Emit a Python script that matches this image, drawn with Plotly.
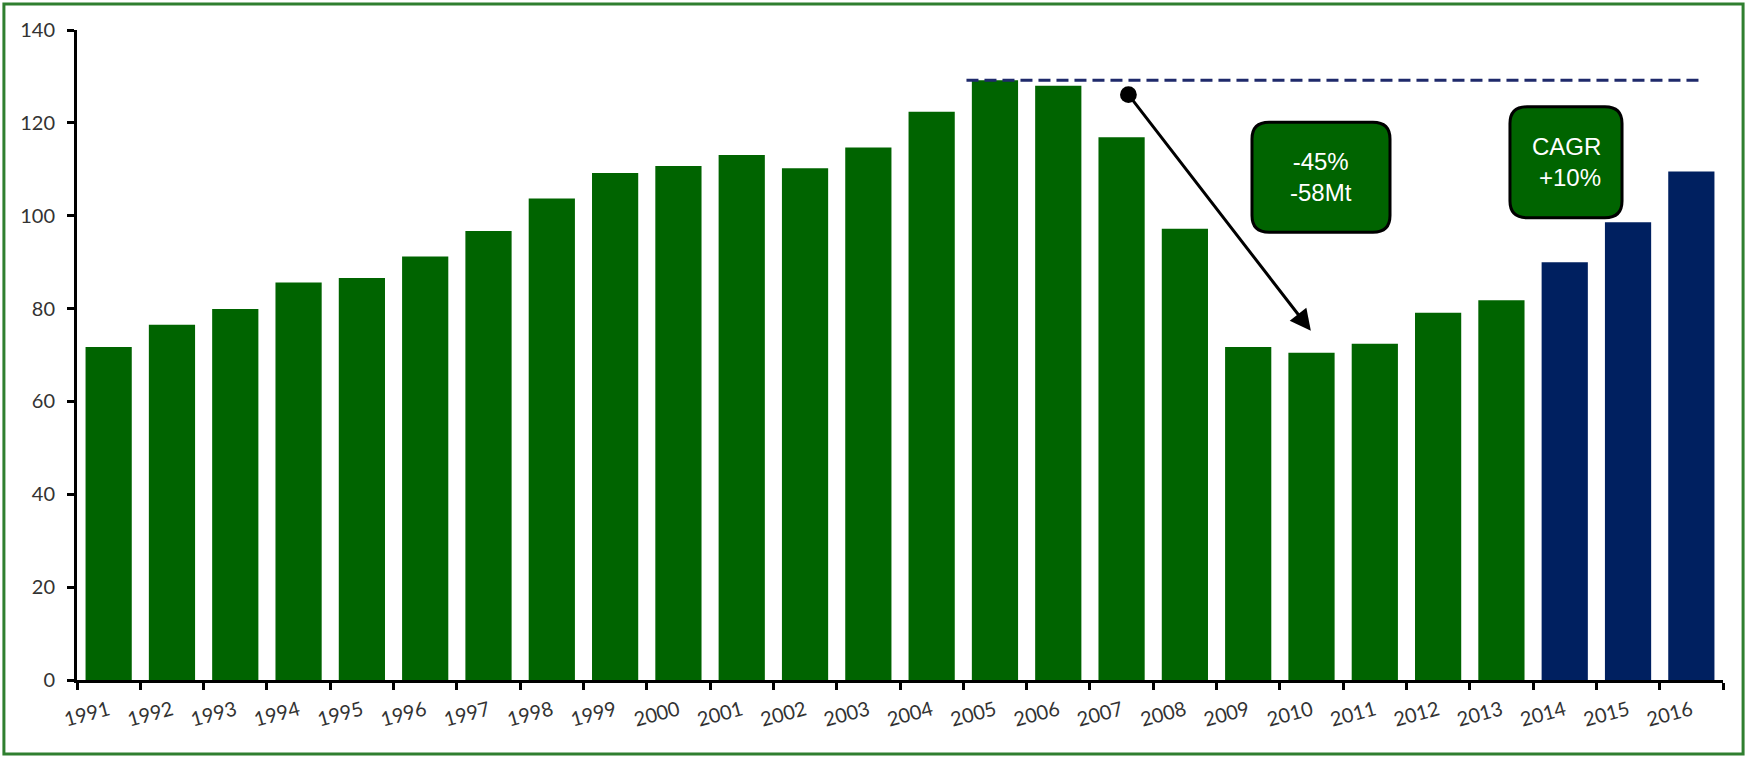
import plotly.graph_objects as go

# ---- data ----
hist_years = ["1991", "1992", "1993", "1994", "1995", "1996", "1997", "1998", "1999", "2000",
              "2001", "2002", "2003", "2004", "2005", "2006", "2007", "2008", "2009", "2010",
              "2011", "2012", "2013"]
hist_values = [71.7, 76.5, 79.9, 85.6, 86.6, 91.2, 96.7, 103.7, 109.2, 110.7,
               113.1, 110.2, 114.7, 122.4, 129.2, 128.0, 116.9, 97.2, 71.7, 70.5,
               72.4, 79.1, 81.8]
fc_years = ["2014", "2015", "2016"]
fc_values = [90.0, 98.6, 109.5]
y_ticks = [0, 20, 40, 60, 80, 100, 120, 140]
box1_text = "-45%<br>-58Mt"
box2_text = "CAGR<br> +10%"

GREEN = "#006400"
NAVY = "#002060"
all_years = hist_years + fc_years
peak = max(hist_values + fc_values)

fig = go.Figure()
fig.add_trace(go.Bar(x=hist_years, y=hist_values, marker=dict(color=GREEN, line=dict(width=0)),
                     hoverinfo="x+y"))
fig.add_trace(go.Bar(x=fc_years, y=fc_values, marker=dict(color=NAVY, line=dict(width=0)),
                     hoverinfo="x+y"))


def rounded_box(xc, yc, w, h, rx, ry):
    x0, x1 = xc - w / 2, xc + w / 2
    y0, y1 = yc - h / 2, yc + h / 2
    return (f"M {x0+rx},{y0} L {x1-rx},{y0} Q {x1},{y0} {x1},{y0+ry} "
            f"L {x1},{y1-ry} Q {x1},{y1} {x1-rx},{y1} "
            f"L {x0+rx},{y1} Q {x0},{y1} {x0},{y1-ry} "
            f"L {x0},{y0+ry} Q {x0},{y0} {x0+rx},{y0} Z")


shapes = [
    # peak dashed line
    dict(type="line", xref="x", yref="y", x0=13.55, x1=25.17, y0=peak, y1=peak,
         line=dict(color="#1F2A6B", width=3, dash="12px,6px")),
    # boxes
    dict(type="path", xref="x", yref="y", path=rounded_box(19.15, 108.3, 2.18, 23.7, 0.27, 3.6),
         fillcolor=GREEN, line=dict(color="black", width=3)),
    dict(type="path", xref="x", yref="y", path=rounded_box(23.02, 111.5, 1.77, 23.9, 0.27, 3.6),
         fillcolor=GREEN, line=dict(color="black", width=3)),
    # outer green border
    dict(type="rect", xref="paper", yref="paper", x0=-0.0444, x1=1.0122, y0=-0.1138, y1=1.04,
         line=dict(color="#2F7F2F", width=3), fillcolor="rgba(0,0,0,0)"),
]

annotations = [
    dict(x=18.99, y=75.2, ax=16.09, ay=126.4, xref="x", yref="y", axref="x", ayref="y",
         text="", showarrow=True, arrowhead=2, arrowsize=1.4, arrowwidth=3,
         arrowside="end+start", startarrowhead=6, startarrowsize=1.4, arrowcolor="black"),
    dict(x=19.15, y=108.3, xref="x", yref="y", text=box1_text, showarrow=False,
         font=dict(family="Liberation Sans, Arial", size=24, color="white")),
    dict(x=23.02, y=111.5, xref="x", yref="y", text=box2_text, showarrow=False,
         font=dict(family="Liberation Sans, Arial", size=24, color="white")),
]

fig.update_layout(
    width=1750, height=757,
    margin=dict(l=77, r=27, t=30, b=77),
    paper_bgcolor="white", plot_bgcolor="white",
    showlegend=False, barmode="overlay", bargap=0.27,
    shapes=shapes, annotations=annotations,
    font=dict(family="Lato, Open Sans, sans-serif", size=20, color="#333333"),
)
fig.update_xaxes(type="category", categoryorder="array", categoryarray=all_years,
                 range=[-0.5, len(all_years) - 0.5],
                 showline=True, linecolor="black", linewidth=3,
                 ticks="outside", tickson="boundaries", ticklen=7, tickwidth=2.5, tickcolor="black",
                 tickangle=-15, showgrid=False, zeroline=False, ticklabelstandoff=8,
                 tickfont=dict(family="Lato, Open Sans, sans-serif", size=20, color="#333333"))
fig.update_yaxes(range=[0, 140], tickvals=y_ticks, showline=True, linecolor="black", linewidth=3,
                 ticks="outside", ticklen=7, tickwidth=2.5, tickcolor="black",
                 showgrid=False, zeroline=False, ticklabelstandoff=8,
                 tickfont=dict(family="Lato, Open Sans, sans-serif", size=20, color="#333333"))

fig.write_html("out.html", config={"displayModeBar": False},
               post_script="document.body.style.margin='0px';")
